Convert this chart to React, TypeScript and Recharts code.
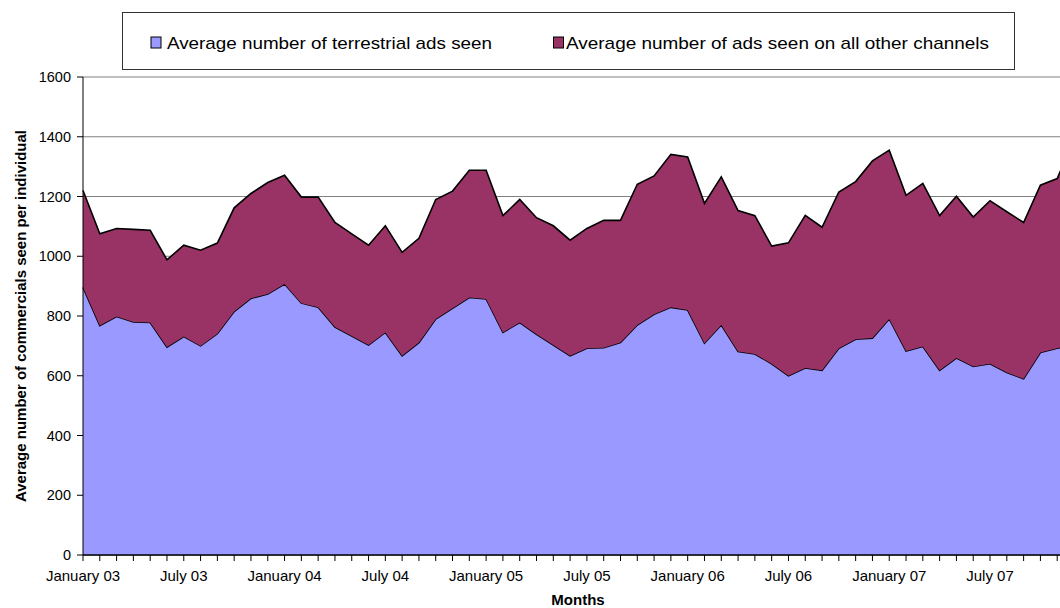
import React from 'react';
import { AreaChart, Area, XAxis, YAxis, CartesianGrid, Label } from 'recharts';

// Month axis: January 03 .. December 07 (the right end is cropped in the picture)
const monthNames = [
  'January', 'February', 'March', 'April', 'May', 'June',
  'July', 'August', 'September', 'October', 'November', 'December',
];
const years = ['03', '04', '05', '06', '07'];
const months: string[] = years.flatMap((yr) => monthNames.map((m) => `${m} ${yr}`));

// Average number of terrestrial ads seen
const terrestrial = [
  896, 768, 798, 780, 778, 696, 731, 700, 741, 815, 859, 874,
  907, 843, 829, 763, 733, 703, 745, 667, 711, 790, 826, 862,
  857, 745, 778, 739, 703, 667, 692, 694, 711, 770, 806, 829,
  820, 709, 770, 681, 673, 640, 600, 626, 618, 692, 722, 726,
  790, 683, 698, 618, 659, 631, 640, 611, 590, 678, 692, 705,
];

// Average number of ads seen on all other channels
const otherChannels = [
  324, 307, 295, 310, 309, 292, 306, 320, 303, 347, 351, 373,
  364, 355, 369, 350, 342, 334, 357, 346, 349, 400, 392, 426,
  431, 391, 412, 390, 399, 387, 401, 426, 409, 471, 463, 512,
  512, 468, 496, 472, 463, 394, 445, 511, 479, 523, 528, 593,
  565, 521, 546, 518, 542, 500, 546, 538, 523, 560, 568, 685,
];

const yTicks = [0, 200, 400, 600, 800, 1000, 1200, 1400, 1600];

const seriesNames = [
  'Average number of terrestrial ads seen',
  'Average number of ads seen on all other channels',
];
const seriesColors = ['#9999FF', '#993366'];

const data = months.map((month, i) => ({
  month,
  terrestrial: terrestrial[i],
  other: otherChannels[i],
}));

const FONT = '"Liberation Sans", Arial, Helvetica, sans-serif';

const showMonth = (m: string) =>
  m.startsWith('January') || m.startsWith('July') ? m : '';

const LegendBox = () => (
  <svg
    width={1060}
    height={80}
    style={{ position: 'absolute', left: 0, top: 0, pointerEvents: 'none' }}
  >
    <rect x={122.5} y={12.5} width={892} height={57} fill="#fff" stroke="#333" strokeWidth={1} />
    <rect x={151} y={37} width={10} height={11} fill={seriesColors[0]} stroke="#000" strokeWidth={1} />
    <text x={167} y={49} fontFamily={FONT} fontSize={17} fill="#000" textLength={325} lengthAdjust="spacingAndGlyphs">
      {seriesNames[0]}
    </text>
    <rect x={553.5} y={37} width={10} height={11} fill={seriesColors[1]} stroke="#000" strokeWidth={1} />
    <text x={566} y={49} fontFamily={FONT} fontSize={17} fill="#000" textLength={423} lengthAdjust="spacingAndGlyphs">
      {seriesNames[1]}
    </text>
  </svg>
);

export default function App() {
  return (
    <div
      style={{
        position: 'absolute',
        left: 0,
        top: 0,
        width: 1060,
        height: 608,
        overflow: 'hidden',
        background: '#fff',
      }}
    >
      <AreaChart
        width={1090}
        height={608}
        data={data}
        margin={{ top: 77, right: 16, bottom: 0, left: 0 }}
      >
        <CartesianGrid vertical={false} stroke="#808080" strokeWidth={1} />
        <XAxis
          dataKey="month"
          interval={0}
          height={53}
          tickFormatter={showMonth}
          tick={{ fill: '#000', fontSize: 15, fontFamily: FONT }}
          tickSize={6}
          tickMargin={9}
          tickLine={{ stroke: '#000' }}
          axisLine={{ stroke: '#000', strokeWidth: 1.5 }}
        >
          <Label
            content={() => (
              <text x={578} y={605} textAnchor="middle" fontFamily={FONT} fontSize={15} fontWeight="bold" fill="#000">
                Months
              </text>
            )}
          />
        </XAxis>
        <YAxis
          width={83}
          domain={[0, 1600]}
          ticks={yTicks}
          interval={0}
          tick={{ fill: '#000', fontSize: 14.5, fontFamily: FONT }}
          tickSize={6}
          tickMargin={6}
          tickLine={{ stroke: '#000' }}
          axisLine={{ stroke: '#000' }}
        >
          <Label
            content={() => (
              <text
                x={26}
                y={316}
                transform="rotate(-90, 26, 316)"
                textAnchor="middle"
                fontFamily={FONT}
                fontSize={15}
                fontWeight="bold"
                fill="#000"
              >
                Average number of commercials seen per individual
              </text>
            )}
          />
        </YAxis>
        <Area
          type="linear"
          dataKey="terrestrial"
          name={seriesNames[0]}
          stackId="1"
          fill={seriesColors[0]}
          fillOpacity={1}
          stroke="#000"
          strokeWidth={1.6}
          isAnimationActive={false}
          dot={false}
          activeDot={false}
        />
        <Area
          type="linear"
          dataKey="other"
          name={seriesNames[1]}
          stackId="1"
          fill={seriesColors[1]}
          fillOpacity={1}
          stroke="#000"
          strokeWidth={1.6}
          isAnimationActive={false}
          dot={false}
          activeDot={false}
        />
      </AreaChart>
      <LegendBox />
    </div>
  );
}
